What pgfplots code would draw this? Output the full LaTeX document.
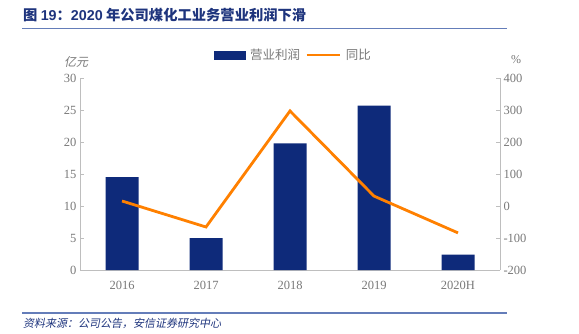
\documentclass[border=0pt]{standalone}
\usepackage{pgfplots}
\pgfplotsset{compat=1.18}
\usepackage{fontspec}
\setmainfont{Liberation Serif}
\newfontfamily\cjk{Noto Sans CJK SC}
\newfontfamily\cjkit{Noto Sans CJK SC}[FakeSlant=0.2]
\newfontfamily\hd{Liberation Sans}
\definecolor{navy}{RGB}{14,42,122}
\definecolor{orng}{RGB}{255,128,0}
\definecolor{tgray}{RGB}{120,120,120}
\definecolor{agray}{RGB}{190,190,190}
\definecolor{ttl}{RGB}{30,52,125}
\definecolor{rule}{RGB}{100,125,185}
\begin{document}
\begin{tikzpicture}
\path (0pt,0pt) rectangle (579pt,-334pt);
\node[anchor=base west, inner sep=0, text=ttl] at (23pt,-21pt) {\fontsize{14.3}{16}\selectfont\cjk\bfseries 图 {\hd\bfseries 19}：{\hd\bfseries 2020} 年公司煤化工业务营业利润下滑};
\draw[rule, line width=1pt] (22pt,-29pt) -- (507pt,-29pt);
\draw[rule, line width=1.5pt] (22pt,-313pt) -- (507pt,-313pt);
\node[anchor=base west, inner sep=0, text=ttl] at (23pt,-327pt) {\fontsize{11}{13}\selectfont\cjkit 资料来源：公司公告，安信证券研究中心};
\node[anchor=base, inner sep=0, text=tgray] at (76pt,-67pt) {\fontsize{12}{14}\selectfont\cjkit 亿元};
\node[anchor=base, inner sep=0, text=tgray] at (516pt,-64pt) {\fontsize{12}{14}\selectfont \%};
\begin{axis}[
  at={(80pt,-270pt)}, anchor=south west,
  scale only axis, width=420pt, height=192pt,
  xmin=-0.5, xmax=4.5, ymin=0, ymax=30,
  ytick={0,5,...,30},
  xtick={0,1,2,3,4},
  xticklabels={2016,2017,2018,2019,2020H},
  axis x line*=bottom, axis y line*=left,
  axis line style={agray, line width=0.8pt},
  x axis line style={-}, y axis line style={-},
  tick align=inside, major tick length=4pt,
  ytick style={agray, line width=0.8pt},
  xtick style={draw=none},
  tick label style={text=tgray, font=\fontsize{12.5}{14}\selectfont},
  /pgf/number format/assume math mode=true,
  xticklabel style={yshift=-4pt},
  ybar, bar width=33pt,
]
\addplot[fill=navy, draw=none] coordinates {(0,14.5) (1,5.0) (2,19.8) (3,25.7) (4,2.4)};
\end{axis}
\begin{axis}[
  at={(80pt,-270pt)}, anchor=south west,
  scale only axis, width=420pt, height=192pt,
  xmin=-0.5, xmax=4.5, ymin=-200, ymax=400,
  ytick={-200,-100,...,400},
  axis x line=none, axis y line*=right,
  axis line style={agray, line width=0.8pt},
  y axis line style={-},
  tick align=inside, major tick length=4pt,
  ytick style={agray, line width=0.8pt},
  tick label style={text=tgray, font=\fontsize{12.5}{14}\selectfont},
  /pgf/number format/assume math mode=true,
  legend columns=2,
  legend style={at={(0.508,1.12)}, anchor=center, draw=none, fill=none,
    font=\fontsize{12.5}{14}\selectfont\cjk\color{tgray},
    /tikz/every odd column/.append style={column sep=3pt},
    /tikz/every even column/.append style={column sep=3pt}},
]
\addlegendimage{legend image code/.code={\fill[navy] (0pt,-4pt) rectangle (31pt,4pt);}}
\addlegendentry{营业利润}
\addplot[orng, line width=2.8pt, mark=none, legend image code/.code={\draw[orng, line width=2.8pt] (0pt,0pt) -- (33pt,0pt);}] coordinates {(0,15.6) (1,-65.6) (2,297) (3,31) (4,-84)};
\addlegendentry{同比}
\end{axis}
\end{tikzpicture}
\end{document}
